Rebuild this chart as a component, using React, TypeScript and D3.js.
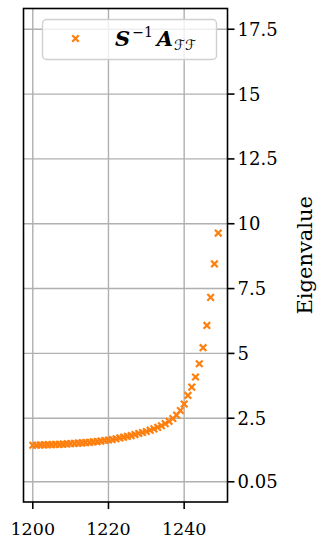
import React from 'react';
import * as d3 from 'd3';

// eigenvalue index (x) and eigenvalue (y)
const indices = [
  1200, 1201, 1202, 1203, 1204, 1205, 1206, 1207, 1208, 1209,
  1210, 1211, 1212, 1213, 1214, 1215, 1216, 1217, 1218, 1219,
  1220, 1221, 1222, 1223, 1224, 1225, 1226, 1227, 1228, 1229,
  1230, 1231, 1232, 1233, 1234, 1235, 1236, 1237, 1238, 1239,
  1240, 1241, 1242, 1243, 1244, 1245, 1246, 1247, 1248, 1249,
];
const eigenvalues = [
  1.46, 1.46, 1.47, 1.47, 1.48, 1.48, 1.49, 1.49, 1.5, 1.51,
  1.52, 1.53, 1.54, 1.55, 1.56, 1.57, 1.59, 1.6, 1.62, 1.64,
  1.66, 1.68, 1.71, 1.74, 1.77, 1.8, 1.83, 1.87, 1.91, 1.95,
  1.99, 2.04, 2.09, 2.15, 2.21, 2.29, 2.38, 2.49, 2.62, 2.8,
  3.05, 3.38, 3.7, 4.09, 4.6, 5.22, 6.08, 7.16, 8.45, 9.64,
];
const xTicks = [1200, 1220, 1240];
const yTicks = [0.05, 2.5, 5, 7.5, 10, 12.5, 15, 17.5];
const yTickLabels = ['0.05', '2.5', '5', '7.5', '10', '12.5', '15', '17.5'];

const W = 321;
const H = 539;
const plot = { left: 23.5, right: 227.5, top: 8.5, bottom: 502 };
const orange = '#ff7f0e';
const serif = '"DejaVu Serif", "Liberation Serif", serif';

export default function App() {
  const x = d3.scaleLinear().domain([1197.55, 1251.45]).range([plot.left, plot.right]);
  const y = d3.scaleLinear().domain([-0.73, 18.3]).range([plot.bottom, plot.top]);
  const m = 3.3; // half marker size

  const cross = (cx: number, cy: number) =>
    `M${cx - m},${cy - m}L${cx + m},${cy + m}M${cx - m},${cy + m}L${cx + m},${cy - m}`;

  return (
    <svg
      width={W}
      height={H}
      style={{ position: 'absolute', left: 0, top: 0, background: '#fff' }}
      fontFamily={serif}
    >
      {/* grid */}
      <g stroke="#b0b0b0" strokeWidth={1.4}>
        {xTicks.map((t) => (
          <line key={'gx' + t} x1={x(t)} x2={x(t)} y1={plot.top} y2={plot.bottom} />
        ))}
        {yTicks.map((t) => (
          <line key={'gy' + t} x1={plot.left} x2={plot.right} y1={y(t)} y2={y(t)} />
        ))}
      </g>

      {/* points */}
      <g stroke={orange} strokeWidth={2.2} fill="none">
        {indices.map((d, i) => (
          <path key={d} d={cross(x(d), y(eigenvalues[i]))} />
        ))}
      </g>

      {/* frame */}
      <rect
        x={plot.left}
        y={plot.top}
        width={plot.right - plot.left}
        height={plot.bottom - plot.top}
        fill="none"
        stroke="#000"
        strokeWidth={1.6}
      />

      {/* x axis */}
      <g>
        {xTicks.map((t) => (
          <g key={'xt' + t}>
            <line x1={x(t)} x2={x(t)} y1={plot.bottom} y2={plot.bottom + 7} stroke="#000" strokeWidth={1.6} />
            <text x={x(t)} y={plot.bottom + 33} textAnchor="middle" fontSize={17.5}>
              {t}
            </text>
          </g>
        ))}
      </g>

      {/* y axis on the right */}
      <g>
        {yTicks.map((t, i) => (
          <g key={'yt' + t}>
            <line x1={plot.right} x2={plot.right + 7} y1={y(t)} y2={y(t)} stroke="#000" strokeWidth={1.6} />
            <text x={plot.right + 10} y={y(t)} dy="0.36em" fontSize={18}>
              {yTickLabels[i]}
            </text>
          </g>
        ))}
        <text
          transform={`translate(${312},${(plot.top + plot.bottom) / 2}) rotate(-90)`}
          textAnchor="middle"
          fontSize={21}
        >
          Eigenvalue
        </text>
      </g>

      {/* legend */}
      <g>
        <rect x={42.5} y={19.5} width={174} height={40} rx={4} fill="#fff" fillOpacity={0.8} stroke="#d0d0d0" strokeWidth={1.4} />
        <path d={cross(75.5, 38.5)} stroke={orange} strokeWidth={2.2} fill="none" />
        <text x={115} y={46} fontSize={21}>
          <tspan fontWeight="bold" fontStyle="italic">S</tspan>
          <tspan fontSize={14} dy={-9} dx={2}>−1</tspan>
          <tspan fontWeight="bold" fontStyle="italic" dy={9} dx={4}>A</tspan>
          <tspan fontSize={14} fontStyle="italic" fontFamily='"DejaVu Sans", sans-serif' dy={4} dx={1}>ℱℱ</tspan>
        </text>
      </g>
    </svg>
  );
}
